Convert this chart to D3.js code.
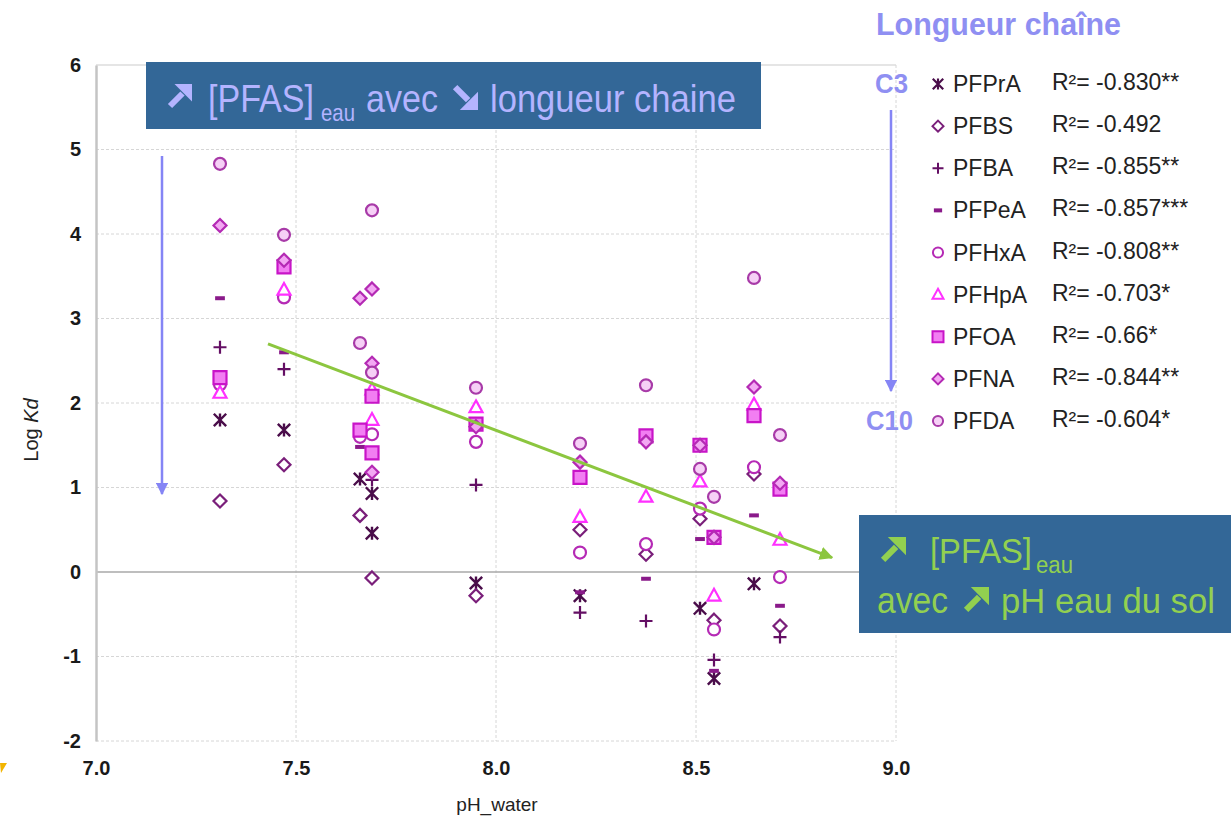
<!DOCTYPE html>
<html><head><meta charset="utf-8">
<script src="https://cdn.jsdelivr.net/npm/d3@7"></script>
<style>
html,body{margin:0;padding:0;background:#fff;}
svg{display:block;font-family:"Liberation Sans",Arial,sans-serif;}
</style></head>
<body>
<svg id="chart" width="1231" height="821"></svg>
<script>
// Log Kd of PFAS compounds against soil water pH, one [pH, logKd] list per compound
const PFPrA = [[7.31,1.80],[7.47,1.68],[7.66,1.10],[7.69,0.93],[7.69,0.46],[7.95,-0.13],[8.21,-0.28],[8.51,-0.43],[8.545,-1.26],[8.645,-0.14]];
const PFBS  = [[7.31,0.84],[7.47,1.27],[7.66,0.67],[7.69,-0.07],[7.95,-0.28],[8.21,0.50],[8.375,0.21],[8.51,0.63],[8.545,-0.57],[8.645,1.16],[8.71,-0.64]];
const PFBA  = [[7.31,2.66],[7.47,2.40],[7.69,1.09],[7.95,1.03],[8.21,-0.48],[8.375,-0.58],[8.545,-1.04],[8.71,-0.77]];
const PFPeA = [[7.31,3.24],[7.47,2.60],[7.66,1.48],[8.21,-0.24],[8.375,-0.08],[8.51,0.39],[8.545,-1.17],[8.645,0.67],[8.71,-0.40]];
const PFHxA = [[7.31,2.22],[7.47,3.25],[7.66,1.60],[7.69,1.63],[7.95,1.54],[8.21,0.23],[8.375,0.33],[8.51,0.75],[8.545,-0.68],[8.645,1.24],[8.71,-0.06]];
const PFHpA = [[7.31,2.12],[7.47,3.34],[7.69,2.16],[7.69,1.80],[7.95,1.95],[8.21,0.65],[8.375,0.89],[8.51,1.07],[8.545,-0.28],[8.645,1.98],[8.71,0.38]];
const PFOA  = [[7.31,2.30],[7.47,3.61],[7.66,1.68],[7.69,2.08],[7.69,1.41],[7.95,1.75],[8.21,1.12],[8.375,1.61],[8.51,1.50],[8.545,0.41],[8.645,1.85],[8.71,0.98]];
const PFNA  = [[7.31,4.10],[7.47,3.69],[7.66,3.24],[7.69,3.35],[7.69,2.47],[7.69,1.18],[7.95,1.72],[8.21,1.30],[8.375,1.54],[8.51,1.50],[8.545,0.41],[8.645,2.19],[8.71,1.05]];
const PFDA  = [[7.31,4.83],[7.47,3.99],[7.66,2.71],[7.69,4.28],[7.69,2.36],[7.95,2.18],[8.21,1.52],[8.375,2.21],[8.51,1.22],[8.545,0.89],[8.645,3.48],[8.71,1.62]];

const seriesNames = ["PFPrA","PFBS","PFBA","PFPeA","PFHxA","PFHpA","PFOA","PFNA","PFDA"];
const rSquared = ["R²= -0.830**","R²= -0.492","R²= -0.855**","R²= -0.857***","R²= -0.808**","R²= -0.703*","R²= -0.66*","R²= -0.844**","R²= -0.604*"];
const xTicks = [7.0, 7.5, 8.0, 8.5, 9.0];
const yTicks = [-2,-1,0,1,2,3,4,5,6];
const trend = [[7.43,2.70],[8.84,0.17]];

const seriesData = [PFPrA,PFBS,PFBA,PFPeA,PFHxA,PFHpA,PFOA,PFNA,PFDA];
const styles = [
  {shape:"asterisk", stroke:"#4a0d4a", fill:"none", sw:2.4},
  {shape:"diamond",  stroke:"#7a1f7a", fill:"#fff", sw:2.2},
  {shape:"plus",     stroke:"#640f64", fill:"none", sw:2.2},
  {shape:"dash",     stroke:"none",    fill:"#8a1a8a", sw:0},
  {shape:"circle",   stroke:"#b52ab5", fill:"#fff", sw:2.2},
  {shape:"triangle", stroke:"#ff30ff", fill:"#fff", sw:2.2},
  {shape:"square",   stroke:"#c814c8", fill:"#f27ef2", sw:2.2},
  {shape:"diamond",  stroke:"#b42ab4", fill:"#f3a8f3", sw:2.2},
  {shape:"circle",   stroke:"#a83aa8", fill:"#f6d0f6", sw:2.2}
];

function markerPath(shape, s) {
  const h = s/2;
  switch (shape) {
    case "asterisk": {
      const d = h*0.95;
      return `M${-d},${-d}L${d},${d}M${-d},${d}L${d},${-d}M0,${-h}L0,${h}`;
    }
    case "diamond": return `M0,${-h}L${h},0L0,${h}L${-h},0Z`;
    case "plus": return `M${-h},0L${h},0M0,${-h}L0,${h}`;
    case "dash": return `M${-h*0.75},${-2}H${h*0.75}V${2}H${-h*0.75}Z`;
    case "circle": return d3.arc()({innerRadius:0,outerRadius:h*0.92,startAngle:0,endAngle:2*Math.PI});
    case "triangle": return `M0,${-h*1.05}L${h},${h*0.75}L${-h},${h*0.75}Z`;
    case "square": return `M${-h},${-h}H${h}V${h}H${-h}Z`;
  }
}

const svg = d3.select("#chart");
const x = d3.scaleLinear().domain([7, 9]).range([96, 896]);
const y = d3.scaleLinear().domain([-2, 6]).range([741, 65]);
const hyphenInt = d => String(d).replace("\u2212", "-");

// grid
const grid = svg.append("g");
grid.selectAll("line.h").data(yTicks.filter(v => v !== 0 && v !== 6)).join("line")
  .attr("x1", x(7)).attr("x2", x(9)).attr("y1", d => y(d)).attr("y2", d => y(d))
  .attr("stroke", "#d6d6d6").attr("stroke-width", 1).attr("stroke-dasharray", "3,2");
grid.append("line").attr("x1", x(7)).attr("x2", x(9)).attr("y1", y(6)).attr("y2", y(6))
  .attr("stroke", "#dcdcdc").attr("stroke-width", 1.5);
grid.selectAll("line.v").data(xTicks.slice(1)).join("line")
  .attr("x1", d => x(d)).attr("x2", d => x(d)).attr("y1", y(6)).attr("y2", y(-2))
  .attr("stroke", "#d6d6d6").attr("stroke-width", 1).attr("stroke-dasharray", "3,2");
grid.append("line").attr("x1", x(7)).attr("x2", x(9)).attr("y1", y(0)).attr("y2", y(0))
  .attr("stroke", "#a8a8a8").attr("stroke-width", 1.5);

// y axis
const yAxis = svg.append("g").attr("transform", `translate(${x(7)},0)`)
  .call(d3.axisLeft(y).tickValues(yTicks).tickSize(0).tickPadding(15).tickFormat(hyphenInt));
yAxis.select(".domain").attr("stroke", "#c4c4c4").attr("stroke-width", 2.5);
yAxis.selectAll("text").attr("font-size", 20).attr("font-weight", "bold").attr("fill", "#1a1a1a")
  .attr("font-family", "Liberation Sans, Arial, sans-serif");

// x axis labels
const xAxis = svg.append("g").attr("transform", `translate(0,${y(-2)})`)
  .call(d3.axisBottom(x).tickValues(xTicks).tickSize(0).tickPadding(20).tickFormat(d3.format(".1f")));
xAxis.select(".domain").remove();
xAxis.selectAll("text").attr("font-size", 20).attr("font-weight", "bold").attr("fill", "#1a1a1a")
  .attr("font-family", "Liberation Sans, Arial, sans-serif");

svg.append("text").attr("x", 497).attr("y", 811).attr("text-anchor", "middle")
  .attr("font-size", 19).attr("fill", "#222").text("pH_water");
const yt = svg.append("text").attr("transform", "translate(38,430) rotate(-90)")
  .attr("text-anchor", "middle").attr("font-size", 20).attr("fill", "#222");
yt.append("tspan").text("Log ");
yt.append("tspan").attr("font-style", "italic").text("Kd");

// points
const pts = svg.append("g");
seriesData.forEach((data, i) => {
  const st = styles[i];
  pts.append("g").selectAll("path").data(data).join("path")
    .attr("transform", d => `translate(${x(d[0])},${y(d[1])})`)
    .attr("d", markerPath(st.shape, 13))
    .attr("fill", st.fill).attr("stroke", st.stroke).attr("stroke-width", st.sw)
    .attr("stroke-linejoin", "miter");
});

// trend arrow
const defs = svg.append("defs");
defs.append("marker").attr("id", "gHead").attr("viewBox", "0 0 10 10").attr("refX", 9).attr("refY", 5)
  .attr("markerWidth", 4.5).attr("markerHeight", 4.5).attr("orient", "auto")
  .append("path").attr("d", "M0,0L10,5L0,10Z").attr("fill", "#8cc63f");
defs.append("marker").attr("id", "bHead").attr("viewBox", "0 0 10 10").attr("refX", 9).attr("refY", 5)
  .attr("markerWidth", 5).attr("markerHeight", 5).attr("orient", "auto")
  .append("path").attr("d", "M0,0L10,5L0,10Z").attr("fill", "#8585f5");

svg.append("line")
  .attr("x1", x(trend[0][0])).attr("y1", y(trend[0][1]))
  .attr("x2", x(trend[1][0])).attr("y2", y(trend[1][1]))
  .attr("stroke", "#8cc63f").attr("stroke-width", 3).attr("marker-end", "url(#gHead)");

// chain-length arrows
svg.append("line").attr("x1", 162).attr("x2", 162).attr("y1", 156).attr("y2", 494)
  .attr("stroke", "#8585f5").attr("stroke-width", 2.5).attr("marker-end", "url(#bHead)");
svg.append("line").attr("x1", 891).attr("x2", 891).attr("y1", 110).attr("y2", 391)
  .attr("stroke", "#8585f5").attr("stroke-width", 2.5).attr("marker-end", "url(#bHead)");

// heavy diagonal arrow glyph; dir "up" points to the upper right, "down" to the lower right
function heavyArrow(g, x0, y0, s, dir, color) {
  const a = g.append("g").attr("transform",
    dir === "up" ? `translate(${x0},${y0})` : `translate(${x0},${y0 + s}) scale(1,-1)`);
  a.append("line").attr("x1", s*0.12).attr("y1", s*0.88).attr("x2", s*0.62).attr("y2", s*0.38)
    .attr("stroke", color).attr("stroke-width", s*0.24).attr("stroke-linecap", "butt");
  a.append("path").attr("d", `M${s*0.3},0L${s},0L${s},${s*0.7}Z`).attr("fill", color);
}
// text squeezed horizontally to a given width (narrow face look)
function seg(g, x0, y0, size, len, str, color) {
  const t = g.append("text").attr("x", 0).attr("y", 0).attr("font-size", size).attr("fill", color).text(str);
  const w = t.node().getComputedTextLength() || len;
  t.attr("transform", `translate(${x0},${y0}) scale(${len / w},1)`);
  return t;
}

// top annotation box
const lav = "#b4b4ff";
const b1 = svg.append("g");
b1.append("rect").attr("x", 146).attr("y", 62).attr("width", 615).attr("height", 67).attr("fill", "#336797");
heavyArrow(b1, 167, 84, 25, "up", lav);
seg(b1, 208, 112, 39, 106, "[PFAS]", lav);
seg(b1, 321, 121, 24, 34, "eau", lav);
seg(b1, 366, 112, 39, 72, "avec", lav);
heavyArrow(b1, 452, 84, 26, "down", lav);
seg(b1, 490, 112, 39, 246, "longueur chaine", lav);

// right annotation box
const grn = "#92d050";
const b2 = svg.append("g");
b2.append("rect").attr("x", 859).attr("y", 515).attr("width", 372).attr("height", 118).attr("fill", "#336797");
heavyArrow(b2, 880, 537, 26, "up", grn);
seg(b2, 930, 563, 36, 102, "[PFAS]", grn);
seg(b2, 1036, 573, 23, 37, "eau", grn);
seg(b2, 877, 613, 36, 71, "avec", grn);
heavyArrow(b2, 963, 587, 26, "up", grn);
seg(b2, 1001, 613, 36, 214, "pH eau du sol", grn);

// legend
const blu = "#8f8ff2";
svg.append("text").attr("x", 876).attr("y", 35).attr("font-size", 31).attr("font-weight", "bold")
  .attr("fill", blu).attr("textLength", 245).attr("lengthAdjust", "spacingAndGlyphs").text("Longueur chaîne");
svg.append("text").attr("x", 875).attr("y", 93).attr("font-size", 28).attr("font-weight", "bold")
  .attr("fill", blu).attr("textLength", 33).attr("lengthAdjust", "spacingAndGlyphs").text("C3");
svg.append("text").attr("x", 866).attr("y", 430).attr("font-size", 28).attr("font-weight", "bold")
  .attr("fill", blu).attr("textLength", 47).attr("lengthAdjust", "spacingAndGlyphs").text("C10");

const legY = d3.scaleLinear().domain([0, 8]).range([84, 421]);
const leg = svg.append("g");
seriesNames.forEach((name, i) => {
  const st = styles[i];
  const cy = legY(i);
  leg.append("path").attr("transform", `translate(938,${cy})`)
    .attr("d", markerPath(st.shape, 11))
    .attr("fill", st.fill).attr("stroke", st.stroke).attr("stroke-width", st.sw * 0.9);
  leg.append("text").attr("x", 953).attr("y", cy + 8).attr("font-size", 23).attr("fill", "#222").text(name);
  leg.append("text").attr("x", 1052).attr("y", cy + 6).attr("font-size", 23).attr("fill", "#222").text(rSquared[i]);
});

// small orange mark at the lower left edge
svg.append("path").attr("d", "M0,763L7,763L1,773Z").attr("fill", "#f2b400");
</script>
</body></html>
